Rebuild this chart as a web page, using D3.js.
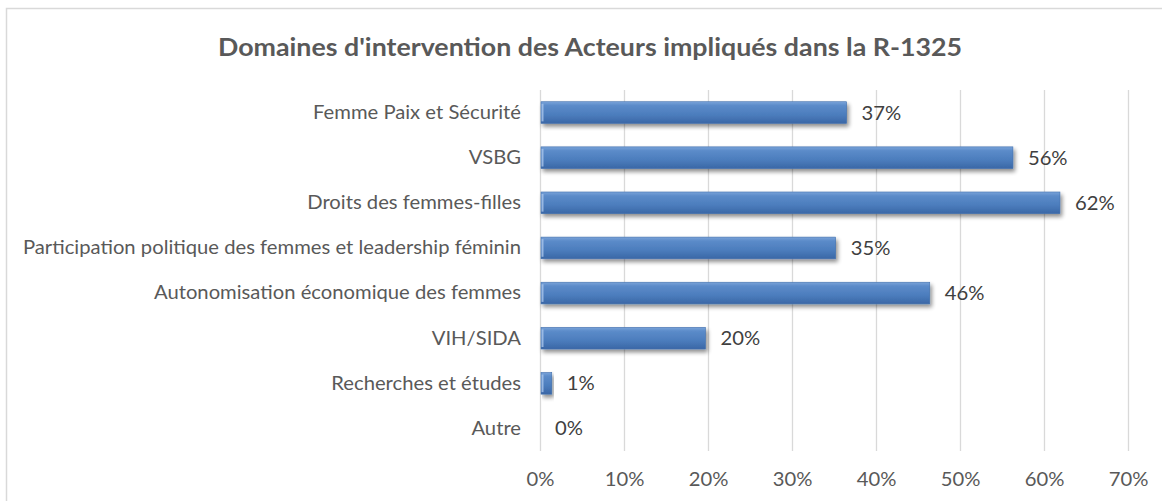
<!DOCTYPE html>
<html>
<head>
<meta charset="utf-8">
<script src="https://cdn.jsdelivr.net/npm/d3@7"></script>
<style>
  html, body { margin: 0; padding: 0; background: #ffffff; }
  svg { display: block; }
  text { font-family: Lato, "Open Sans", "DejaVu Sans", sans-serif; }
</style>
</head>
<body>
<svg id="chart" width="1162" height="501"></svg>
<script>
const title = "Domaines d'intervention des Acteurs impliqués dans la R-1325";
const categories = [
  "Femme Paix et Sécurité",
  "VSBG",
  "Droits des femmes-filles",
  "Participation politique des femmes et leadership féminin",
  "Autonomisation économique des femmes",
  "VIH/SIDA",
  "Recherches et études",
  "Autre"
];
const values = [36.5, 56.3, 61.9, 35.2, 46.4, 19.7, 1.4, 0];
const tickValues = [0, 10, 20, 30, 40, 50, 60, 70];

const svg = d3.select("#chart");
const W = 1162, H = 501;

// frame
svg.append("rect")
  .attr("x", 6.5).attr("y", 8.5)
  .attr("width", W + 20).attr("height", H + 20)
  .attr("fill", "#ffffff")
  .attr("stroke", "#d9d9d9").attr("stroke-width", 1.5);

const defs = svg.append("defs");
const grad = defs.append("linearGradient")
  .attr("id", "barGrad").attr("x1", 0).attr("y1", 0).attr("x2", 0).attr("y2", 1);
grad.append("stop").attr("offset", "0%").attr("stop-color", "#79a3d9");
grad.append("stop").attr("offset", "18%").attr("stop-color", "#5b8bc9");
grad.append("stop").attr("offset", "60%").attr("stop-color", "#4c7dbd");
grad.append("stop").attr("offset", "100%").attr("stop-color", "#3a67a6");

const shadow = defs.append("filter").attr("id", "shadow")
  .attr("x", "-5%").attr("y", "-30%").attr("width", "120%").attr("height", "180%");
shadow.append("feGaussianBlur").attr("in", "SourceAlpha").attr("stdDeviation", 2.2).attr("result", "blur");
shadow.append("feOffset").attr("in", "blur").attr("dx", 2).attr("dy", 3).attr("result", "off");
shadow.append("feComponentTransfer").attr("in", "off").attr("result", "offA")
  .append("feFuncA").attr("type", "linear").attr("slope", 0.45);
const merge = shadow.append("feMerge");
merge.append("feMergeNode").attr("in", "offA");
merge.append("feMergeNode").attr("in", "SourceGraphic");

const x = d3.scaleLinear().domain([0, 70]).range([540, 1128]);
const y = d3.scaleBand().domain(categories).range([90, 451]).paddingInner(0.52).paddingOuter(0.26);

// gridlines via axis
const grid = svg.append("g")
  .attr("transform", "translate(0,451)")
  .call(d3.axisBottom(x).tickValues(tickValues).tickSize(-(451 - 90)).tickFormat(""));
grid.select(".domain").remove();
grid.selectAll(".tick line").attr("stroke", "#d9d9d9").attr("stroke-width", 1.3);

// tick labels
const xAxis = svg.append("g")
  .attr("transform", "translate(0,451)")
  .call(d3.axisBottom(x).tickValues(tickValues).tickSize(0).tickPadding(0).tickFormat(d => d + "%"));
xAxis.select(".domain").remove();
xAxis.selectAll(".tick text")
  .attr("y", 28).attr("dy", "0.35em")
  .attr("fill", "#595959").style("font-size", "20px")
  .style("font-family", "Lato, 'Open Sans', sans-serif");

// category axis
const yAxis = svg.append("g")
  .attr("transform", "translate(540,0)")
  .call(d3.axisLeft(y).tickSize(0).tickPadding(19));
yAxis.select(".domain").remove();
yAxis.selectAll(".tick text")
  .attr("fill", "#595959").style("font-size", "20px")
  .style("font-family", "Lato, 'Open Sans', sans-serif");

// bars
const bars = svg.append("g");
bars.selectAll("rect.bar")
  .data(values.map((v, i) => ({ v, c: categories[i] })).filter(d => d.v > 0))
  .join("rect")
  .attr("class", "bar")
  .attr("x", x(0) + 1)
  .attr("y", d => y(d.c))
  .attr("width", d => Math.max(0, x(d.v) - x(0) - 1))
  .attr("height", y.bandwidth())
  .attr("fill", "url(#barGrad)")
  .attr("stroke", "#4170ad").attr("stroke-width", 0.6)
  .attr("filter", "url(#shadow)");
// left-end highlight
bars.selectAll("rect.hl")
  .data(values.map((v, i) => ({ v, c: categories[i] })).filter(d => d.v > 0))
  .join("rect")
  .attr("class", "hl")
  .attr("x", x(0) + 1.5)
  .attr("y", d => y(d.c) + 2)
  .attr("width", 2)
  .attr("height", y.bandwidth() - 4)
  .attr("fill", "#a9c6ec").attr("opacity", 0.8);

// data labels
svg.append("g").selectAll("text")
  .data(values.map((v, i) => ({ v, c: categories[i] })))
  .join("text")
  .attr("x", d => x(d.v) + 15)
  .attr("y", d => y(d.c) + y.bandwidth() / 2)
  .attr("dy", "0.35em")
  .attr("fill", "#404040").style("font-size", "20px")
  .text(d => Math.round(d.v) + "%");

// title
svg.append("text")
  .attr("class", "title")
  .attr("x", 590).attr("y", 47)
  .attr("dy", "0.35em")
  .attr("text-anchor", "middle")
  .attr("fill", "#595959")
  .style("font-size", "25px").style("font-weight", "bold")
  .text(title);

// horizontal compression to mimic Calibri metrics
const catTexts = yAxis.selectAll(".tick text").nodes();
const longest = d3.max(catTexts, n => n.getComputedTextLength());
const factor = 498 / longest;
svg.selectAll("text").each(function() {
  const sel = d3.select(this);
  if (sel.classed("title")) return;
  const w = this.getComputedTextLength();
  sel.attr("textLength", w * factor).attr("lengthAdjust", "spacingAndGlyphs");
});
const t = svg.select("text.title");
const tw = t.node().getComputedTextLength();
t.attr("textLength", 744).attr("lengthAdjust", "spacingAndGlyphs");
</script>
</body>
</html>
